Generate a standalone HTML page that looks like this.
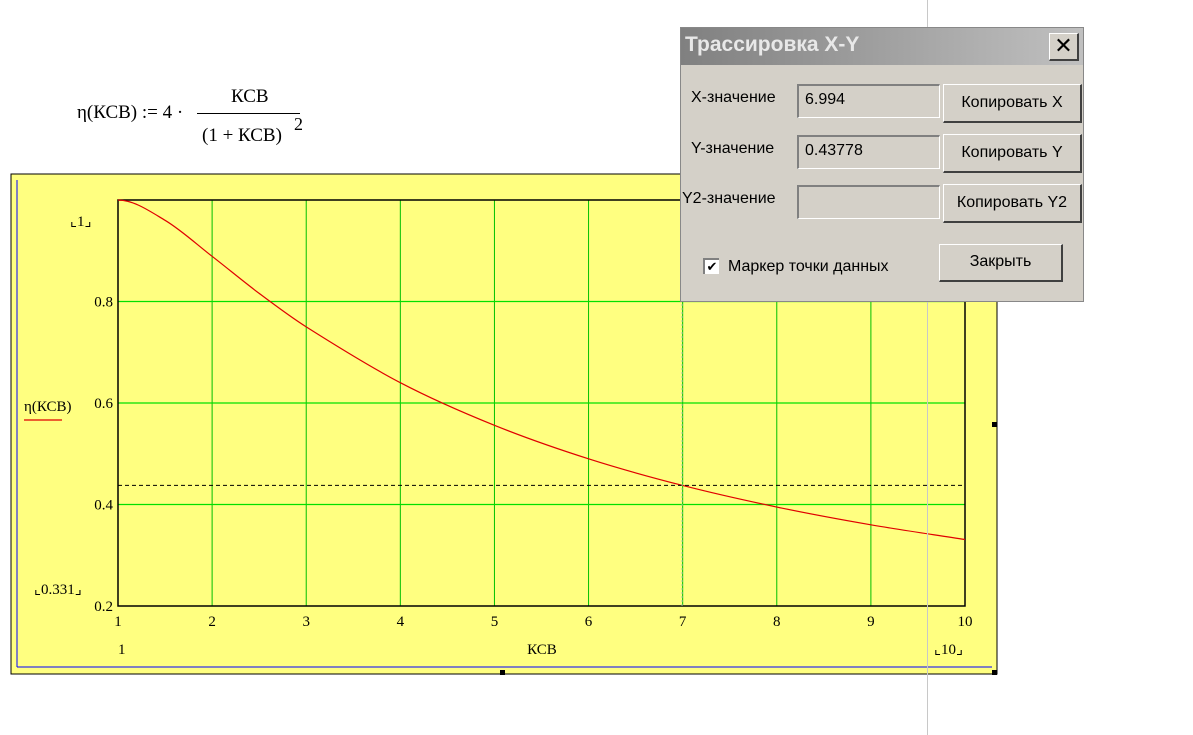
<!DOCTYPE html>
<html><head><meta charset="utf-8">
<style>
body{margin:0;width:1193px;height:735px;background:#fff;position:relative;overflow:hidden;font-family:"Liberation Serif",serif;}
.abs{position:absolute;}
.dlg{font-family:"Liberation Sans","DejaVu Sans",sans-serif;font-size:15px;color:#000;}
.fld{position:absolute;background:#d4d0c8;border-top:2px solid #808080;border-left:2px solid #808080;border-bottom:1px solid #fff;border-right:1px solid #fff;box-sizing:border-box;padding:5px 6px;font-size:16px;}
.btn{position:absolute;background:#d4d0c8;border-top:1px solid #fff;border-left:1px solid #fff;border-bottom:2px solid #404040;border-right:2px solid #404040;box-sizing:border-box;text-align:center;font-size:16px;}
</style></head><body>
<div class="abs" style="left:0;top:0;width:400px;height:160px;font-size:19px;">
  <span class="abs" style="left:77px;top:102px;">η(КСВ) := 4 ·</span>
  <span class="abs" style="left:231px;top:86px;">КСВ</span>
  <div class="abs" style="left:197px;top:113px;width:103px;height:1px;background:#000;"></div>
  <span class="abs" style="left:202px;top:125px;">(1 + КСВ)</span>
  <span class="abs" style="left:294px;top:114px;font-size:18px;">2</span>
</div>
<div class="abs" style="left:927px;top:0;width:1px;height:735px;background:#c8c8c8;z-index:5;"></div>
<svg class="abs" style="left:0;top:0" width="1193" height="735">
  <rect x="11" y="174" width="986" height="500" fill="#ffff80" stroke="#000" stroke-width="1"/>
  <line x1="17" y1="180" x2="17" y2="667" stroke="#00f"/>
  <line x1="17" y1="667" x2="992" y2="667" stroke="#00f"/>
  <g id="grid"></g>
  <rect x="118" y="200" width="847" height="406" fill="none" stroke="#000" stroke-width="1.5"/>
  <g id="marks"></g>
  <g id="labels" font-family="Liberation Serif,serif" font-size="15"></g>
  <rect x="500" y="670" width="5" height="5" fill="#000"/>
  <rect x="992" y="422" width="5" height="5" fill="#000"/>
  <rect x="992" y="670" width="5" height="5" fill="#000"/>
</svg>
<div class="abs dlg" style="left:680px;top:27px;width:404px;height:275px;background:#d4d0c8;border:1px solid #888;box-sizing:border-box;z-index:10;">
  <div class="abs" style="left:0;top:0;width:402px;height:37px;background:linear-gradient(90deg,#808080,#c0c0c0);"></div>
  <span class="abs" style="left:4px;top:5px;font-size:21px;font-weight:bold;color:#e8e8e8;">Трассировка X-Y</span>
  <div class="btn" style="left:368px;top:5px;width:30px;height:28px;font-size:22px;font-weight:bold;line-height:24px;">✕</div>
  <span class="abs" style="left:10px;top:61px;font-size:16px;">X-значение</span>
  <div class="fld" style="left:116px;top:56px;width:143px;height:34px;">6.994</div>
  <div class="btn" style="left:262px;top:56px;width:139px;height:39px;line-height:36px;">Копировать X</div>
  <span class="abs" style="left:10px;top:112px;font-size:16px;">Y-значение</span>
  <div class="fld" style="left:116px;top:107px;width:143px;height:34px;">0.43778</div>
  <div class="btn" style="left:262px;top:106px;width:139px;height:39px;line-height:36px;">Копировать Y</div>
  <span class="abs" style="left:1px;top:162px;font-size:16px;">Y2-значение</span>
  <div class="fld" style="left:116px;top:157px;width:143px;height:34px;"></div>
  <div class="btn" style="left:262px;top:156px;width:139px;height:39px;line-height:36px;">Копировать Y2</div>
  <div class="abs" style="left:22px;top:230px;width:16px;height:16px;background:#fff;border-top:2px solid #808080;border-left:2px solid #808080;box-sizing:border-box;font-size:13px;line-height:13px;text-align:center;">✔</div>
  <span class="abs" style="left:47px;top:230px;font-size:16px;">Маркер точки данных</span>
  <div class="btn" style="left:258px;top:216px;width:124px;height:38px;line-height:34px;">Закрыть</div>
</div>
<script>
const categories=[1,1.5,2,2.5,3,4,5,6,7,8,9,10];
const seriesValues=[1,0.96,0.889,0.816,0.75,0.64,0.556,0.49,0.4375,0.395,0.36,0.331];
const xTicks=[1,2,3,4,5,6,7,8,9,10];
const yTicks=[0.2,0.4,0.6,0.8];
const xTickLabels=["1","2","3","4","5","6","7","8","9","10"];
const traceX=[6.994];
const traceY=[0.43778];
const NS="http://www.w3.org/2000/svg";
const xs=v=>118+(v-1)*(847/9);
const ys=v=>606-(v-0.2)*(406/0.8);
const grid=document.getElementById('grid'),marks=document.getElementById('marks'),labels=document.getElementById('labels');
function mk(tag,attrs,parent){const e=document.createElementNS(NS,tag);for(const k in attrs)e.setAttribute(k,attrs[k]);parent.appendChild(e);return e;}
xTicks.forEach((c,i)=>{
  if(i>0&&i<xTicks.length-1){const l=mk('line',{x1:xs(c),x2:xs(c),y1:200,y2:606,stroke:'#00c000','stroke-width':1},grid);
  
  }
  const t=mk('text',{x:xs(c),y:626,'text-anchor':'middle'},labels);t.textContent=xTickLabels[i];
  
  
});
yTicks.forEach(v=>{
  if(v>0.2){const l=mk('line',{x1:118,x2:965,y1:ys(v),y2:ys(v),stroke:'#00e000','stroke-width':1.3},grid);
  
  }
  const t=mk('text',{x:113,y:ys(v)+5,'text-anchor':'end'},labels);t.textContent=v.toFixed(1);
  
  
});
const P=categories.map((c,i)=>[xs(c),ys(seriesValues[i])]);
const n=P.length;
const m=P.map((p,i)=>{
  if(i===0) return 0;
  if(i===n-1) return (P[i][1]-P[i-1][1])/(P[i][0]-P[i-1][0]);
  return (P[i+1][1]-P[i-1][1])/(P[i+1][0]-P[i-1][0]);
});
let d='M'+P[0][0]+','+P[0][1];
for(let i=0;i<n-1;i++){const h=P[i+1][0]-P[i][0];
d+=' C'+(P[i][0]+h/3)+','+(P[i][1]+m[i]*h/3)+' '+(P[i+1][0]-h/3)+','+(P[i+1][1]-m[i+1]*h/3)+' '+P[i+1][0]+','+P[i+1][1];}
const curve=mk('path',{d:d,fill:'none',stroke:'#e00000','stroke-width':1.2},marks);


const th=mk('line',{x1:118,x2:965,y1:ys(traceY[0]),y2:ys(traceY[0]),stroke:'#000','stroke-dasharray':'4,3'},marks);


const tv=mk('line',{x1:xs(traceX[0]),x2:xs(traceX[0]),y1:200,y2:606,stroke:'#a0c0a0','stroke-dasharray':'2,2'},marks);


function txt(x,y,s,name,extra){const t=mk('text',Object.assign({x:x,y:y},extra||{}),labels);t.textContent=s;

return t;}
txt(70,226,'⌞1⌟','y-max-label');
txt(34,594,'⌞0.331⌟','y-min-label');
txt(24,411,'η(КСВ)','y-axis-title');
mk('line',{x1:24,x2:62,y1:420,y2:420,stroke:'#e00000','stroke-width':1.2},labels);
txt(118,654,'1','x-min-label');
txt(542,654,'КСВ','x-axis-title',{'text-anchor':'middle'});
txt(934,654,'⌞10⌟','x-max-label');
</script>
</body></html>
